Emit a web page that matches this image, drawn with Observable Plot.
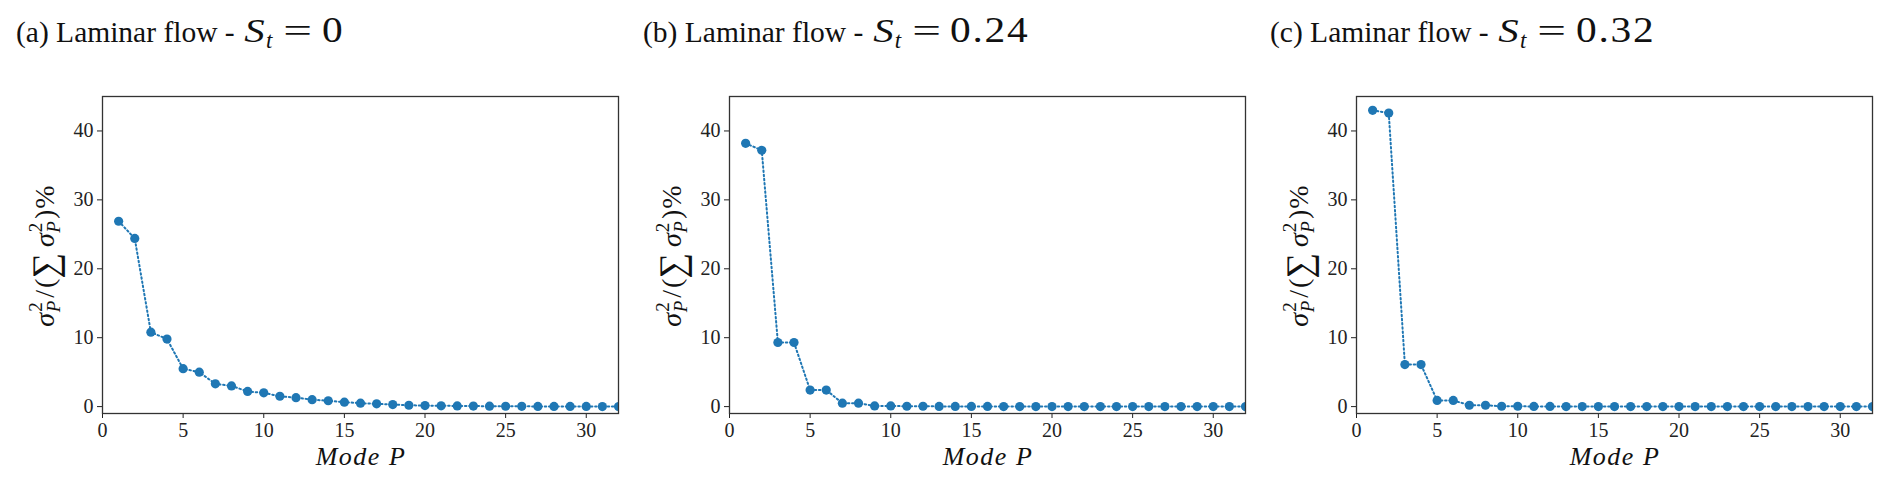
<!DOCTYPE html>
<html>
<head>
<meta charset="utf-8">
<script src="https://cdn.jsdelivr.net/npm/d3@7"></script>
<script src="https://cdn.jsdelivr.net/npm/@observablehq/plot@0.6"></script>
<style>
  html, body { margin: 0; padding: 0; background: #fff; }
  #wrap { position: relative; width: 1892px; height: 486px; overflow: hidden; }
  .panel { position: absolute; top: 0; }
  .title { box-sizing: border-box; height: 60px; padding-top: 16px; padding-left: 16px;
           font-family: "Liberation Serif", "DejaVu Serif", serif; font-size: 29.5px; line-height: 29px;
           color: #111; white-space: nowrap; }
  .title .m { font-size: 34px; margin-left: 4px; }
  .title .m .v { font-size: 36px; letter-spacing: 1.5px; display: inline-block; transform: scaleX(1.15); transform-origin: left center; }
  .title i { font-style: italic; }
  .title .s { display: inline-block; transform: scaleX(1.2); margin-right: 3px; }
  .title sub { font-size: 23px; vertical-align: -6px; line-height: 0; }
  .title .eq { display: inline-block; transform: scaleX(1.5); margin: 0 14px 0 16px; }
  svg { display: block; }
</style>
</head>
<body>
<div id="wrap"></div>
<script>
// ---- data ----
const modes = [1,2,3,4,5,6,7,8,9,10,11,12,13,14,15,16,17,18,19,20,21,22,23,24,25,26,27,28,29,30,31,32];
const energyA = [26.9, 24.4, 10.8, 9.8, 5.5, 5.0, 3.3, 3.0, 2.2, 2.0, 1.5, 1.3, 1.0, 0.85, 0.65, 0.5,
                 0.4, 0.3, 0.2, 0.15, 0.12, 0.1, 0.08, 0.06, 0.05, 0.04, 0.03, 0.03, 0.02, 0.02, 0.01, 0.01];
const energyB = [38.2, 37.2, 9.3, 9.3, 2.4, 2.4, 0.5, 0.5, 0.1, 0.1, 0.05, 0.05, 0.03, 0.03, 0.02, 0.02,
                 0.01, 0.01, 0.01, 0.01, 0.0, 0.0, 0.0, 0.0, 0.0, 0.0, 0.0, 0.0, 0.0, 0.0, 0.0, 0.0];
const energyC = [43.0, 42.6, 6.1, 6.1, 0.9, 0.9, 0.2, 0.2, 0.05, 0.05, 0.02, 0.02, 0.01, 0.01, 0.0, 0.0,
                 0.0, 0.0, 0.0, 0.0, 0.0, 0.0, 0.0, 0.0, 0.0, 0.0, 0.0, 0.0, 0.0, 0.0, 0.0, 0.0];
const panelLetters = ["(a)", "(b)", "(c)"];
const swirlValues = ["0", "0.24", "0.32"];
const xTicks = [0, 5, 10, 15, 20, 25, 30];
const yTicks = [0, 10, 20, 30, 40];
const xLabel = "Mode P";

const series = [energyA, energyB, energyC];
const offsets = [0, 627, 1254];
const widths = [627, 627, 638];
const blue = "#1f77b4";

const wrap = document.getElementById("wrap");

series.forEach((vals, i) => {
  const data = modes.map((m, k) => ({mode: m, value: vals[k]}));
  const panel = document.createElement("div");
  panel.className = "panel";
  panel.style.left = offsets[i] + "px";
  panel.style.width = widths[i] + "px";

  const title = document.createElement("div");
  title.className = "title";
  title.innerHTML = `${panelLetters[i]} Laminar flow - <span class="m"><i class="s">S</i><sub><i>t</i></sub><span class="eq">=</span><span class="v">${swirlValues[i]}</span></span>`;
  panel.appendChild(title);

  const chart = Plot.plot({
    width: widths[i],
    height: 426,
    marginTop: 36,
    marginBottom: 73,
    marginLeft: 102,
    marginRight: widths[i] - 618,
    style: {fontFamily: "Liberation Serif, DejaVu Serif, serif", fontSize: "20px", color: "#222", background: "#fff"},
    x: {domain: [0, 32]},
    y: {domain: [-1, 45]},
    marks: [
      Plot.axisX({ticks: xTicks, tickSize: 5, tickPadding: 4, label: null, tickFormat: d => String(d)}),
      Plot.axisY({ticks: yTicks, tickSize: 5, tickPadding: 4, label: null, tickFormat: d => String(d)}),
      Plot.line(data, {x: "mode", y: "value", stroke: blue, strokeWidth: 2, strokeDasharray: "1.5,2.7", clip: true}),
      Plot.dot(data, {x: "mode", y: "value", r: 4.6, fill: blue, clip: true}),
      Plot.frame({stroke: "#333", strokeWidth: 1.3})
    ]
  });

  const svg = d3.select(chart);
  // x label
  svg.append("text")
    .attr("x", 361).attr("y", 405)
    .attr("text-anchor", "middle")
    .attr("font-size", 26)
    .attr("font-style", "italic")
    .attr("letter-spacing", 1.5)
    .attr("fill", "#111")
    .text(xLabel);

  // y label (math-like with sub/superscripts)
  const yl = svg.append("text")
    .attr("transform", "translate(54,196) rotate(-90)")
    .attr("text-anchor", "middle")
    .attr("font-size", 28)
    .attr("fill", "#111");
  yl.append("tspan").attr("font-style", "italic").text("σ");
  yl.append("tspan").attr("font-size", 19).attr("dx", 1).attr("dy", -12).text("2");
  yl.append("tspan").attr("font-size", 19).attr("font-style", "italic").attr("dx", -10).attr("dy", 18).text("P");
  yl.append("tspan").attr("dx", 3).attr("dy", -6).text("/");
  yl.append("tspan").attr("dx", 2).text("(");
  yl.append("tspan").attr("font-size", 36).attr("dy", 3).text("∑");
  yl.append("tspan").attr("font-style", "italic").attr("dx", 6).attr("dy", -3).text("σ");
  yl.append("tspan").attr("font-size", 19).attr("dx", 1).attr("dy", -12).text("2");
  yl.append("tspan").attr("font-size", 19).attr("font-style", "italic").attr("dx", -10).attr("dy", 18).text("P");
  yl.append("tspan").attr("dx", 2).attr("dy", -6).text(")");
  yl.append("tspan").attr("dx", 1).text("%");

  panel.appendChild(chart);
  wrap.appendChild(panel);
});
</script>
</body>
</html>
